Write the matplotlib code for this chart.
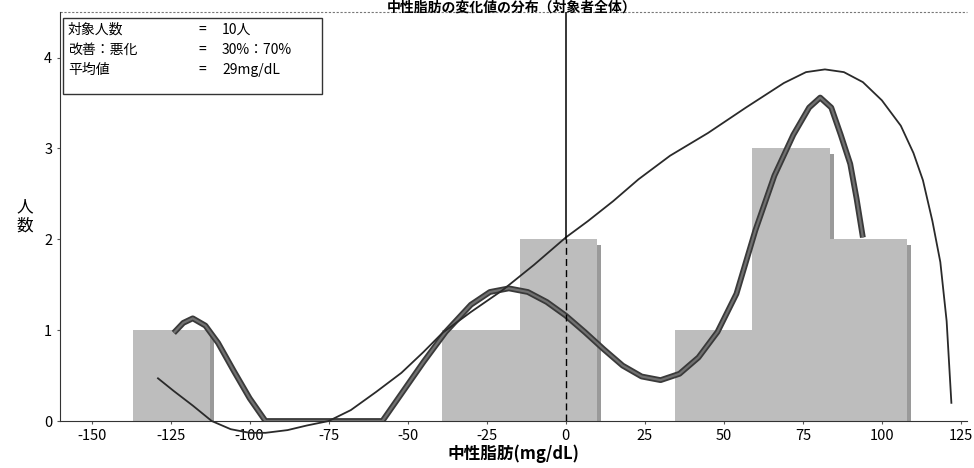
import matplotlib
matplotlib.use('Agg')
import matplotlib.pyplot as plt
from matplotlib.patches import Rectangle

plt.rcParams['font.family'] = ['Noto Sans CJK JP', 'DejaVu Sans']
plt.rcParams['axes.unicode_minus'] = False

# histogram bins (mg/dL) and counts
bin_edges = [-137, -112.5, -88, -63.5, -39, -14.5, 10, 34.5, 59, 83.5, 108]
counts = [1, 0, 0, 0, 1, 2, 0, 1, 3, 2]

# thick smoothed curve
kde_x = [-124, -121, -118, -114, -110, -105, -100, -95, -85, -70, -58, -52, -45, -38,
         -30, -24, -18, -12, -6, 0, 6, 12, 18, 24, 30, 36, 42, 48, 54, 60, 66, 72,
         77, 80.5, 84, 87, 90, 92, 94]
kde_y = [0.97, 1.08, 1.13, 1.05, 0.86, 0.55, 0.25, 0.0, 0.0, 0.0, 0.0, 0.3, 0.65, 0.98,
         1.28, 1.42, 1.46, 1.42, 1.31, 1.16, 0.98, 0.79, 0.61, 0.49, 0.45, 0.52, 0.7,
         0.98, 1.4, 2.1, 2.7, 3.15, 3.45, 3.56, 3.45, 3.15, 2.83, 2.45, 2.02]

# thin fitted curve
fit_x = [-129, -124, -118, -112, -106, -100, -95, -88, -82, -75, -68, -60, -52, -45,
         -39, -30, -20, -10, 0, 7, 15, 23, 33, 45, 57, 69, 76, 82, 88, 94, 100, 106,
         110, 113, 116, 118.5, 120.5, 122]
fit_y = [0.47, 0.33, 0.17, 0.0, -0.09, -0.13, -0.13, -0.1, -0.05, 0.0, 0.12, 0.32,
         0.53, 0.76, 0.97, 1.2, 1.44, 1.72, 2.02, 2.2, 2.42, 2.66, 2.92, 3.17, 3.45,
         3.72, 3.84, 3.87, 3.84, 3.73, 3.53, 3.25, 2.95, 2.65, 2.2, 1.75, 1.1, 0.2]

title = '中性脂肪の変化値の分布（対象者全体）'
info_labels = ['対象人数', '改善：悪化', '平均値']
info_values = ['10人', '30%：70%', '29mg/dL']

fig = plt.figure(figsize=(9.74, 4.68), dpi=100)
ax = fig.add_axes([0.0616, 0.1004, 0.9314, 0.8736])

widths = [bin_edges[i + 1] - bin_edges[i] for i in range(len(counts))]
# slight drop shadow like the scanned original
for left, w, c in zip(bin_edges[:-1], widths, counts):
    if c:
        ax.add_patch(Rectangle((left + 1.3, 0), w, c - 0.06, facecolor='#9a9a9a',
                               linewidth=0, zorder=1))
ax.bar(bin_edges[:-1], counts, width=widths, align='edge', color='#bdbdbd',
       linewidth=0, zorder=2)

ax.plot(fit_x, fit_y, color='#2a2a2a', linewidth=1.3, zorder=4, clip_on=False)
ax.plot(kde_x, kde_y, color='#3a3a3a', linewidth=4.2, solid_capstyle='butt', zorder=3)
ax.plot(kde_x, kde_y, color='#707070', linewidth=1.6, solid_capstyle='butt', zorder=3)

ax.axvline(0, ymin=2 / 4.5, ymax=1, color='black', linewidth=1.1, zorder=5)
ax.plot([0, 0], [0, 2], color='black', linewidth=1.0, linestyle=(0, (5, 3)), zorder=5)

ax.set_xlim(-160, 127)
ax.set_ylim(0, 4.5)
ax.set_xticks([-150, -125, -100, -75, -50, -25, 0, 25, 50, 75, 100, 125])
ax.set_yticks([0, 1, 2, 3, 4])
ax.tick_params(labelsize=10.5, length=2, width=0.8, color='#555555')

for side in ['top', 'right']:
    ax.spines[side].set_visible(False)
ax.spines['left'].set_color('#333333')
ax.spines['bottom'].set_color('#333333')
ax.axhline(4.5, color='#777777', linewidth=0.8, linestyle=(0, (2, 1.5)), clip_on=False)

ax.set_xlabel('中性脂肪(mg/dL)', fontsize=12, fontweight='bold', labelpad=1)
ax.set_ylabel('人\n数', fontsize=12, rotation=0, va='center', labelpad=14)

# info box
ax.add_patch(Rectangle((63 / 974, 1 - 94 / 468), 259 / 974, 76 / 468,
                       transform=fig.transFigure, fill=False, edgecolor='#333333',
                       linewidth=1.0, clip_on=False, zorder=6))
for i, (lab, val) in enumerate(zip(info_labels, info_values)):
    y = 1 - (30 + i * 20) / 468
    fig.text(68 / 974, y, lab, fontsize=10, va='center')
    fig.text(198 / 974, y, '=', fontsize=10, va='center')
    fig.text(222 / 974, y, val, fontsize=10, va='center')

fig.text(0.525, 0.999, title, fontsize=10, fontweight='bold', ha='center', va='top')

fig.savefig('out.png', dpi=100)
